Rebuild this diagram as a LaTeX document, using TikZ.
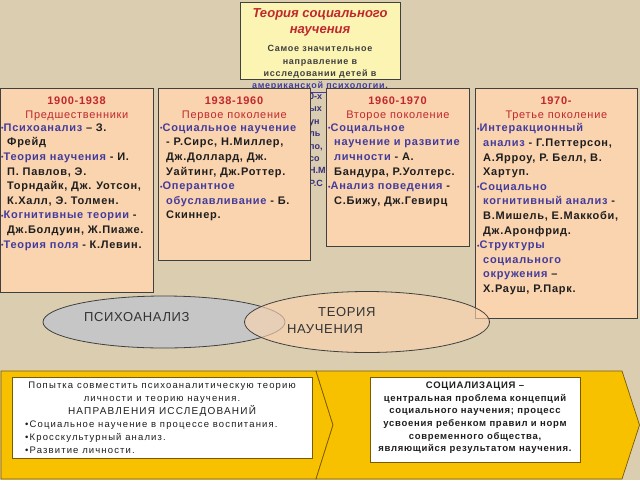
\documentclass[tikz,border=0pt]{standalone}
\usepackage{fontspec}
\setmainfont{Liberation Sans}
\newfontfamily\lsA[LetterSpace=6.5]{Liberation Sans}
\newfontfamily\lsB[LetterSpace=12]{Liberation Sans}
\newfontfamily\lsC[LetterSpace=7.5]{Liberation Sans}
\newfontfamily\lsD[LetterSpace=8]{Liberation Sans}
\newfontfamily\lsE[LetterSpace=5]{Liberation Sans}
\usetikzlibrary{shapes.geometric}
\definecolor{bg}{HTML}{DBCDB0}
\definecolor{peach}{HTML}{FAD3AF}
\definecolor{titlefill}{HTML}{FBF4B2}
\definecolor{hred}{HTML}{C0282D}
\definecolor{blu}{HTML}{433C9C}
\definecolor{txt}{HTML}{1E1E1E}
\definecolor{gold}{HTML}{F7C100}
\definecolor{goldline}{HTML}{7A5A00}
\definecolor{ellgray}{HTML}{C6C6C6}
\newcommand{\bul}{\textcolor{blu}{\raisebox{0.6pt}{\fontsize{7}{7}\selectfont•}}}
\newcommand{\ci}{\hspace*{6pt}}
\newcommand{\bt}[1]{\textcolor{blu}{#1}}
\tikzset{
  periodbox/.style={draw=black!75, line width=0.8pt, fill=peach, anchor=north west, inner sep=0pt},
  headtxt/.style={anchor=north, align=center, inner sep=0pt, text=hred, font=\lsA\fontsize{11}{14}\selectfont},
  listtxt/.style={anchor=north west, align=left, inner sep=0pt, text=txt, font=\lsA\fontsize{11}{14.6}\selectfont\bfseries},
  chev/.style={fill=gold, draw=goldline, line width=0.7pt},
  whitebox/.style={fill=white, draw=goldline, line width=0.7pt, anchor=north west, inner sep=0pt},
  lowtxt/.style={inner sep=0pt, text=txt, font=\lsB\fontsize{9.5}{13}\selectfont},
  elltxt/.style={inner sep=0pt, text=black!80, font=\lsE\fontsize{13}{17}\selectfont}
}
\begin{document}
\begin{tikzpicture}[x=1pt,y=-1pt]
\useasboundingbox (0,0) rectangle (640,480);
\fill[bg] (0,0) rectangle (640,480);

% title box
\node[draw=black!75, line width=0.8pt, fill=titlefill, minimum width=160pt, minimum height=77pt, anchor=north west, inner sep=0pt] (title) at (240,2) {};
\node[anchor=north, align=center, inner sep=0pt, text=hred, font=\fontsize{13}{16.5}\selectfont\bfseries\itshape] (ttl) at (320,8) {Теория социального\\научения};
\node[anchor=north, align=center, inner sep=0pt, text=black!75, font=\lsD\fontsize{9}{12.2}\selectfont\bfseries] (tsub) at (320,45.5) {Самое значительное\\направление в\\исследовании детей в\\\textcolor{blu}{\underline{американской психологии.}}};

% hidden text fragments
\node[anchor=north west, align=left, inner sep=0pt, text=blu!80!black, font=\fontsize{9}{12.4}\selectfont\bfseries] (frag) at (309,93) {0-х\\ых\\ун\\ль\\по,\\со\\Н.М\\Р.С};

% period boxes
\node[periodbox, minimum width=153pt, minimum height=204pt] (b1) at (0,88) {};
\node[headtxt] (h1) at (b1.north |- 0,97) {\textbf{1900-1938}\\Предшественники};
\node[listtxt] (l1) at (1,123.5) {\bul\bt{Психоанализ} – З.\\\ci Фрейд\\\bul\bt{Теория научения} - И.\\\ci П. Павлов, Э.\\\ci Торндайк, Дж. Уотсон,\\\ci К.Халл, Э. Толмен.\\\bul\bt{Когнитивные теории} -\\\ci Дж.Болдуин, Ж.Пиаже.\\\bul\bt{Теория поля} - К.Левин.};

\node[periodbox, minimum width=152pt, minimum height=172pt] (b2) at (158,88) {};
\node[headtxt] (h2) at (b2.north |- 0,97) {\textbf{1938-1960}\\Первое поколение};
\node[listtxt] (l2) at (160,123.5) {\bul\bt{Социальное научение}\\\ci - Р.Сирс, Н.Миллер,\\\ci Дж.Доллард, Дж.\\\ci Уайтинг, Дж.Роттер.\\\bul\bt{Оперантное}\\\ci \bt{обуславливание} - Б.\\\ci Скиннер.};

\node[periodbox, minimum width=143pt, minimum height=158pt] (b3) at (326,88) {};
\node[headtxt] (h3) at (b3.north |- 0,97) {\textbf{1960-1970}\\Второе поколение};
\node[listtxt] (l3) at (328,123.5) {\bul\bt{Социальное}\\\ci \bt{научение и развитие}\\\ci \bt{личности} - А.\\\ci Бандура, Р.Уолтерс.\\\bul\bt{Анализ поведения} -\\\ci С.Бижу, Дж.Гевирц};

\node[periodbox, minimum width=162pt, minimum height=230pt] (b4) at (475,88) {};
\node[headtxt] (h4) at (b4.north |- 0,97) {\textbf{1970-}\\Третье поколение};
\node[listtxt] (l4) at (477,123.5) {\bul\bt{Интеракционный}\\\ci \bt{анализ} - Г.Петтерсон,\\\ci А.Ярроу, Р. Белл, В.\\\ci Хартуп.\\\bul\bt{Социально}\\\ci \bt{когнитивный анализ} -\\\ci В.Мишель, Е.Маккоби,\\\ci Дж.Аронфрид.\\\bul\bt{Структуры}\\\ci \bt{социального}\\\ci \bt{окружения} –\\\ci Х.Рауш, Р.Парк.};

% ellipses
\node[ellipse, draw=black!75, line width=0.8pt, fill=ellgray, minimum width=242pt, minimum height=52pt, inner sep=0pt] (psy) at (164,322) {};
\node[ellipse, draw=black!75, line width=0.8pt, fill=peach, fill opacity=0.65, minimum width=245pt, minimum height=61pt, inner sep=0pt] (teo) at (367,322) {};
\node[elltxt, anchor=west] (psyt) at (84,317) {ПСИХОАНАЛИЗ};
\node[elltxt, anchor=north west, align=left] (teot) at (287,307) {\hspace*{31pt}ТЕОРИЯ\\НАУЧЕНИЯ};

% chevron band
\coordinate (c1) at (1,371);
\coordinate (c2) at (316,371);
\coordinate (c3) at (333,425);
\coordinate (c4) at (316,479);
\coordinate (c5) at (1,479);
\coordinate (c6) at (622,371);
\coordinate (c7) at (639.5,425);
\coordinate (c8) at (622,479);
\draw[chev] (c1) -- (c2) -- (c3) -- (c4) -- (c5) -- cycle;
\draw[chev] (c2) -- (c6) -- (c7) -- (c8) -- (c4) -- (c3) -- cycle;

\node[whitebox, minimum width=300pt, minimum height=81pt] (wb1) at (12,377) {};
\node[lowtxt, anchor=north, align=center] (w1a) at (162,381.5) {Попытка совместить психоаналитическую теорию\\личности и теорию научения.\\\fontsize{10}{13}\selectfont НАПРАВЛЕНИЯ ИССЛЕДОВАНИЙ};
\node[lowtxt, anchor=north west, align=left] (w1b) at (25,420.5) {•Социальное научение в процессе воспитания.\\•Кросскультурный анализ.\\•Развитие личности.};

\node[whitebox, minimum width=210pt, minimum height=85pt] (wb2) at (370,377) {};
\node[lowtxt, anchor=north, align=center, font=\lsC\fontsize{9.5}{12.7}\selectfont\bfseries] (w2) at (475,381.5) {СОЦИАЛИЗАЦИЯ –\\центральная проблема концепций\\социального научения; процесс\\усвоения ребенком правил и норм\\современного общества,\\являющийся результатом научения.};
\end{tikzpicture}
\end{document}
